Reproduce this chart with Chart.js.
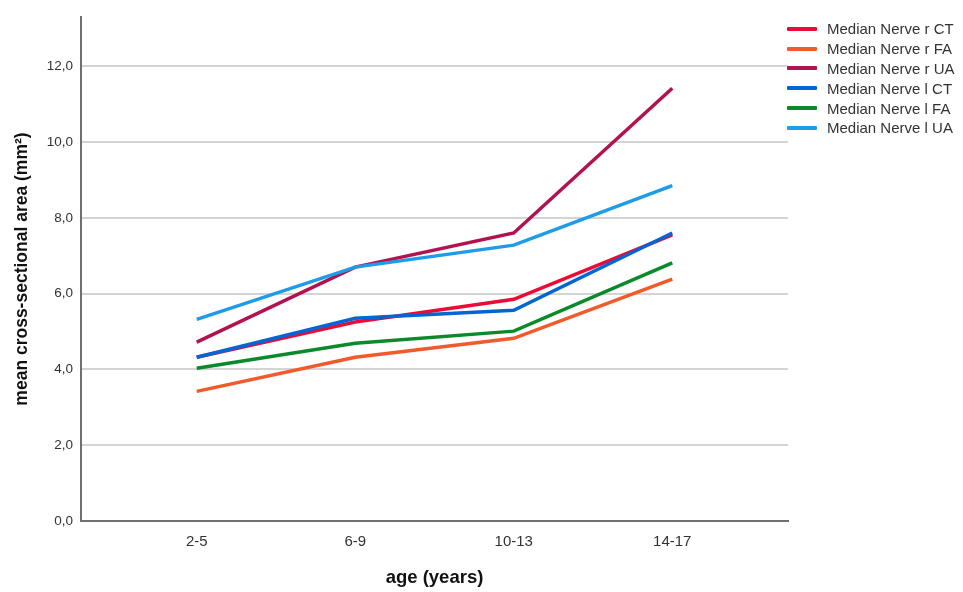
<!DOCTYPE html>
<html>
<head>
<meta charset="utf-8">
<script src="https://cdn.jsdelivr.net/npm/chart.js@4"></script>
<style>
    body { margin: 0; background: #fff; }
    #wrap { position: relative; width: 963px; height: 592px; }
    #legend { position: absolute; left: 787px; top: 19px; font-family: "Liberation Sans", Arial, sans-serif; font-size: 15px; color: #333; }
    .item { height: 19.8px; display: flex; align-items: center; }
    .swatch { width: 30px; height: 4px; margin-right: 10px; border-radius: 1px; }
</style>
</head>
<body>
<div id="wrap">
    <canvas id="lineChart" width="963" height="592"></canvas>
    <div id="legend"></div>
</div>
<script>
// Age groups on the x axis
const ageGroups = ['2-5', '6-9', '10-13', '14-17'];

// Mean cross-sectional area (mm²) per series
const rightCT = [4.32, 5.25, 5.85, 7.55];
const rightFA = [3.42, 4.32, 4.82, 6.38];
const rightUA = [4.72, 6.70, 7.60, 11.42];
const leftCT = [4.32, 5.35, 5.56, 7.60];
const leftFA = [4.03, 4.69, 5.01, 6.81];
const leftUA = [5.32, 6.70, 7.28, 8.85];

const seriesNames = ['Median Nerve r CT', 'Median Nerve r FA', 'Median Nerve r UA',
    'Median Nerve l CT', 'Median Nerve l FA', 'Median Nerve l UA'];
const seriesColors = ['#ec0a36', '#f15a2b', '#b2124f', '#0066d4', '#0a8a2a', '#1f9ce8'];
const seriesValues = [rightCT, rightFA, rightUA, leftCT, leftFA, leftUA];
const yTicks = [0, 2, 4, 6, 8, 10, 12];

const FONT = '"Liberation Sans", Arial, sans-serif';

function toPoints(values) {
    return values.map(function(v, i) { return { x: i, y: v }; });
}

const datasets = seriesNames.map(function(name, i) {
    return {
        label: name,
        data: toPoints(seriesValues[i]),
        borderColor: seriesColors[i],
        backgroundColor: seriesColors[i],
        borderWidth: 3.5,
        pointRadius: 0,
        tension: 0,
        // left side series drawn over the right side ones
        order: i < 3 ? 1 : 0
    };
});

// Legend as plain html
const legendEl = document.getElementById('legend');
seriesNames.forEach(function(name, i) {
    const row = document.createElement('div');
    row.className = 'item';
    row.innerHTML = '<span class="swatch" style="background:' + seriesColors[i] + '"></span>' + name;
    legendEl.appendChild(row);
});

const ctx = document.getElementById('lineChart').getContext('2d');
new Chart(ctx, {
    type: 'line',
    data: { datasets: datasets },
    options: {
        responsive: false,
        animation: false,
        layout: { padding: { left: 0, right: 175, top: 17, bottom: 0 } },
        plugins: {
            legend: { display: false },
            tooltip: { enabled: false }
        },
        scales: {
            x: {
                type: 'linear',
                min: -0.73,
                max: 3.73,
                grid: { display: false, drawTicks: false },
                border: { color: '#707070', width: 2 },
                ticks: {
                    stepSize: 1,
                    includeBounds: false,
                    padding: 12,
                    color: '#333',
                    font: { family: FONT, size: 15 },
                    callback: function(v) { return ageGroups[v] !== undefined ? ageGroups[v] : ''; }
                },
                title: {
                    display: true,
                    text: 'age (years)',
                    color: '#111',
                    font: { family: FONT, size: 18.5, weight: 'bold' },
                    padding: { top: 0, bottom: 3 }
                },
                afterFit: function(scale) { scale.height = 71; }
            },
            y: {
                min: 0,
                max: 13.3,
                grid: { color: '#d4d4d4', lineWidth: 2, drawTicks: false },
                border: { color: '#707070', width: 2 },
                afterBuildTicks: function(scale) {
                    scale.ticks = yTicks.map(function(v) { return { value: v }; });
                },
                ticks: {
                    padding: 8,
                    color: '#333',
                    font: { family: FONT, size: 13.5 },
                    callback: function(v) { return v.toFixed(1).replace('.', ','); }
                },
                title: {
                    display: true,
                    text: 'mean cross-sectional area (mm²)',
                    color: '#111',
                    font: { family: FONT, size: 17.5, weight: 'bold' },
                    padding: { top: 12, bottom: 0 }
                },
                afterFit: function(scale) { scale.width = 81; }
            }
        }
    }
});
</script>
</body>
</html>
